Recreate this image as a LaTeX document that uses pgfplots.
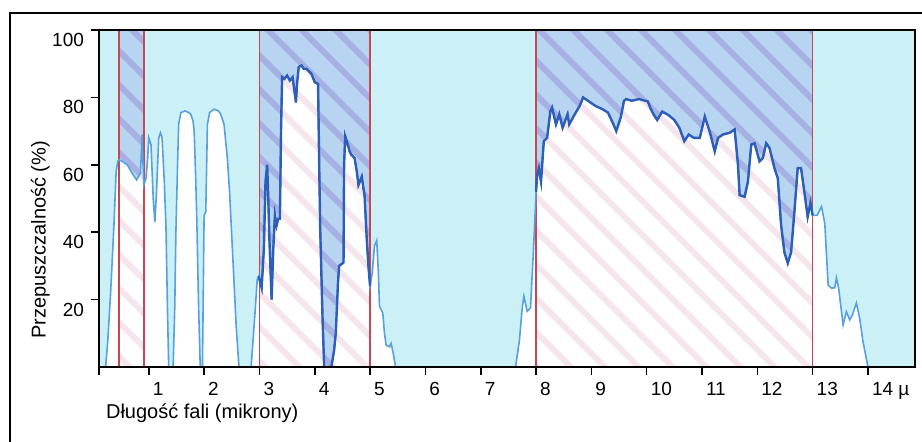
\documentclass[border=0pt]{standalone}
\usepackage{pgfplots}
\pgfplotsset{compat=1.18}
\usepackage{pgfplotstable}
\usepgfplotslibrary{fillbetween}
\usetikzlibrary{patterns.meta}
\usepackage{fontspec}
\setmainfont{Liberation Sans}

\definecolor{skybg}{RGB}{203,240,246}
\definecolor{winblue}{RGB}{183,212,240}
\definecolor{winstripe}{RGB}{166,176,226}
\definecolor{pinkstripe}{RGB}{245,230,238}
\definecolor{curvelight}{RGB}{88,160,222}
\definecolor{curvedark}{RGB}{45,95,185}
\definecolor{winred}{RGB}{200,70,82}

% transmission (%) vs wavelength (micron)
\pgfplotstableread{
x y
0.22 0
0.26 8
0.31 22
0.37 42
0.41 58
0.44 61
0.46 61.5
0.52 61
0.61 60
0.70 57.5
0.78 55.5
0.85 57.5
0.88 69
0.90 58
0.91 54
0.95 56
0.98 62
1.00 68
1.04 66
1.08 50
1.11 43
1.14 52
1.18 68
1.21 69.5
1.24 68
1.28 55
1.31 42
1.34 15
1.36 0
1.44 0
1.47 18
1.49 40
1.52 60
1.54 72
1.58 75.5
1.66 76
1.72 75.5
1.76 75
1.80 73
1.82 70
1.85 55
1.87 42
1.90 18
1.93 0
1.97 0
1.99 30
2.00 45
2.03 46
2.06 72
2.10 75.5
2.18 76.5
2.26 76
2.30 75
2.36 72
2.42 62
2.46 52
2.52 32
2.58 12
2.63 0
2.85 0
2.92 16
2.96 26
2.99 27
3.00 26
3.04 23.5
3.08 35
3.11 55
3.14 60
3.16 50
3.18 38
3.22 20
3.25 35
3.28 45
3.31 42
3.34 44
3.37 44
3.39 70
3.41 86
3.45 85.5
3.50 86.5
3.55 85
3.60 86
3.64 81
3.66 78.5
3.68 84
3.71 89
3.76 89.5
3.80 88.5
3.85 88.5
3.94 87
4.00 84.5
4.06 84
4.08 60
4.10 40
4.14 15
4.17 0
4.30 0
4.35 5
4.38 10
4.42 25
4.44 30
4.52 31
4.53 60
4.55 68.5
4.58 67
4.63 64
4.66 63
4.72 62
4.76 58
4.79 54
4.85 56.5
4.88 53
4.90 51
4.94 38
4.97 30
5.00 24
5.04 28
5.08 36
5.12 37.5
5.15 28
5.17 18
5.23 16
5.26 10
5.29 6.5
5.35 6
5.38 7
5.42 4
5.46 0
7.63 0
7.70 8
7.75 17.5
7.78 21
7.84 16.5
7.90 17.5
7.96 37
8.00 52
8.02 57
8.05 59
8.09 55
8.14 67
8.20 68
8.26 76
8.29 77
8.36 72
8.42 75
8.48 71
8.57 75
8.60 72
8.70 75
8.79 77.5
8.85 80
8.94 79
9.07 77.5
9.20 76.5
9.30 75.5
9.40 72
9.45 70
9.53 74
9.59 79
9.63 79.5
9.73 79
9.86 79.5
10.02 78.8
10.07 76.7
10.13 74.8
10.19 73.3
10.28 75.8
10.39 74.8
10.50 73.3
10.59 71
10.68 67
10.76 69
10.85 68
10.96 68
11.05 74.3
11.14 69.8
11.23 64
11.29 68
11.38 69
11.50 69.5
11.59 70.5
11.65 60
11.68 51
11.77 50.5
11.83 55
11.89 66
11.95 66.4
12.04 61
12.10 62
12.16 66.4
12.22 65
12.31 59
12.37 56
12.43 42
12.49 34
12.55 30.8
12.61 34
12.67 46
12.73 59
12.79 59
12.85 52
12.91 44.6
12.96 48.7
13.00 45
13.08 45
13.16 47.6
13.22 42.5
13.28 24.3
13.34 23.4
13.40 23.5
13.43 26.5
13.47 23.4
13.55 12.5
13.61 16.4
13.67 14
13.72 15.5
13.79 19
13.85 14.5
13.91 7.5
14.00 0
}\transm

% hatched fills of one atmospheric window, #1:#2 in microns
\newcommand{\windowfill}[2]{%
  \addplot[fill=winblue, draw=none] fill between[of=curve and top,
    soft clip={(axis cs:#1,-5) rectangle (axis cs:#2,105)}];
  \addplot[draw=none, pattern={Lines[angle=-45,distance=12pt,line width=3pt]}, pattern color=winstripe]
    fill between[of=curve and top, soft clip={(axis cs:#1,-5) rectangle (axis cs:#2,105)}];
  \addplot[draw=none, pattern={Lines[angle=-45,distance=12pt,line width=3pt]}, pattern color=pinkstripe]
    fill between[of=curve and bot, soft clip={(axis cs:#1,-5) rectangle (axis cs:#2,105)}];
  \addplot[winred, line width=0.8pt] coordinates {(#1,0) (#1,100)};
  \addplot[winred, line width=0.8pt] coordinates {(#2,0) (#2,100)};
}

\begin{document}
\begin{tikzpicture}
\begin{axis}[
    at={(49.5pt,37pt)}, anchor=south west,
    scale only axis,
    width=408pt, height=168.5pt,
    xmin=0.1, xmax=14.85,
    ymin=0, ymax=100,
    axis background/.style={fill=skybg},
    axis line style={line width=0.8pt, black},
    axis on top,
    tick align=outside,
    major tick length=4pt,
    every tick/.style={black, line width=0.8pt},
    xtick={0.1,1,2,3,4,5,6,7,8,9,10,11,12,13,14},
    xticklabels={{},1,2,3,4,5,6,7,8,9,10,11,12,13,14 µ},
    ytick={20,40,60,80,100},
    yticklabels={20,40,60,80,100},
    xtick pos=bottom, ytick pos=left,
    tick label style={font=\fontsize{9.5}{11}\selectfont},
    xticklabel style={anchor=north west, xshift=-1.5pt},
    yticklabel style={yshift=-5pt},
    xlabel={Długość fali (mikrony)},
    ylabel={Przepuszczalność (\%)},
    label style={font=\fontsize{10}{12}\selectfont},
    xlabel style={at={(axis description cs:0,-0.137)}, anchor=west},
    ylabel style={at={(axis description cs:-0.072,0.377)}, anchor=center},
    /pgf/number format/assume math mode=true,
]
\addplot[draw=none, name path=top] coordinates {(0.1,100) (14.85,100)};
\addplot[draw=none, name path=bot] coordinates {(0.1,0) (14.85,0)};
\addplot[draw=none, name path=curve] table[x=x,y=y] {\transm};
% open area under the curve
\addplot[fill=white, draw=none] fill between[of=curve and bot];
% atmospheric windows
\windowfill{0.46}{0.91}
\windowfill{3}{5}
\windowfill{8}{13}
% the curve
\addplot[curvelight, line width=0.8pt] table[x=x,y=y] {\transm};
\addplot[curvedark, line width=1.2pt, restrict x to domain=2.99:5.01] table[x=x,y=y] {\transm};
\addplot[curvedark, line width=1.2pt, restrict x to domain=7.99:13.01] table[x=x,y=y] {\transm};
\end{axis}
\draw[line width=1.3pt] (5pt,-10pt) -- (5pt,214pt) -- (480pt,214pt);
\pgfresetboundingbox
\useasboundingbox (0,0) rectangle (461pt,220.5pt);
\end{tikzpicture}
\end{document}
